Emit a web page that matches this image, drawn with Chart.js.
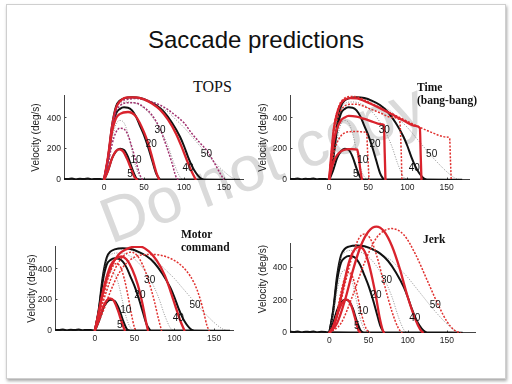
<!DOCTYPE html>
<html>
<head>
<meta charset="utf-8">
<script src="https://cdn.jsdelivr.net/npm/chart.js@4.4.0/dist/chart.umd.min.js"></script>
<style>
html, body { margin: 0; padding: 0; background: #fff; }
body { width: 512px; height: 384px; position: relative; overflow: hidden; font-family: "Liberation Sans", Arial, sans-serif; }
#slide { position: absolute; left: 6px; top: 4px; width: 498px; height: 373px; border: 1px solid #cfcfcf; box-shadow: 1px 2px 3px rgba(0,0,0,0.35); background: #fff; }
#title { position: absolute; left: 0; top: 28px; width: 512px; text-align: center; font-size: 24px; line-height: 24px; color: #111; }
#mark { position: absolute; left: 90px; top: 190px; font-size: 64px; line-height: 72px; color: #dadada; white-space: nowrap; transform-origin: 0 0; transform: rotate(-21deg); }
.panel { position: absolute; }
.ptitle { position: absolute; font-family: "Liberation Serif", "Times New Roman", serif; font-weight: bold; font-size: 11.5px; line-height: 13px; color: #111; white-space: nowrap; }
</style>
</head>
<body>
<div id="slide"></div>
<div id="title">Saccade predictions</div>
<div id="mark">Do not copy</div>
<canvas class="panel" id="tops" width="224" height="101" style="left:20px;top:95px"></canvas>
<canvas class="panel" id="bang" width="224" height="101" style="left:246px;top:95px"></canvas>
<canvas class="panel" id="motor" width="223" height="101" style="left:11px;top:246px"></canvas>
<canvas class="panel" id="jerk" width="230" height="124" style="left:246px;top:225px"></canvas>
<div class="ptitle" style="left:193px;top:79px;font-weight:normal;font-size:16px;line-height:16px">TOPS</div>
<div class="ptitle" style="left:417px;top:81px">Time<br>(bang-bang)</div>
<div class="ptitle" style="left:181px;top:228px">Motor<br>command</div>
<div class="ptitle" style="left:423px;top:233px">Jerk</div>
<script>
const xTicks = [0, 50, 100, 150];
const yTicks = [0, 200, 400];
const ampLabels = ['5', '10', '20', '30', '40', '50'];

// recorded saccades, [time ms, velocity deg/s]
const baseline = [[-50, 8], [-45, 6], [-40, 9], [-35, 5], [-30, 8], [-25, 6], [-20, 9], [-15, 5], [-10, 7], [-5, 6], [0, 4], [40, 3], [80, 3], [120, 3], [170, 2]];
const data5 = [[0, 0], [5, 60], [10, 140], [15, 185], [20, 203], [25, 195], [30, 150], [35, 75], [40, 15], [44, 0]];
const data10 = [[0, 0], [5, 110], [10, 260], [15, 360], [20, 385], [25, 370], [30, 300], [35, 190], [40, 80], [45, 20], [50, 0]];
const data20 = [[0, 0], [5, 130], [10, 320], [15, 430], [20, 460], [25, 470], [30, 468], [35, 450], [40, 410], [45, 350], [50, 290], [55, 215], [60, 130], [65, 45], [70, 0]];
const data30 = [[0, 0], [5, 140], [10, 340], [15, 460], [20, 495], [30, 505], [40, 495], [50, 465], [60, 410], [70, 330], [80, 220], [88, 100], [95, 20], [100, 0]];
const data40 = [[0, 0], [5, 140], [10, 350], [15, 475], [20, 515], [25, 528], [35, 535], [45, 530], [55, 512], [65, 485], [75, 440], [85, 370], [95, 280], [100, 220], [105, 150], [110, 90], [115, 45], [120, 15], [125, 0]];
const data50 = [[0, 0], [5, 140], [10, 350], [15, 475], [20, 515], [30, 530], [40, 530], [50, 515], [60, 495], [70, 470], [80, 440], [90, 390], [100, 340], [110, 280], [120, 220], [130, 160], [140, 105], [150, 55], [160, 15], [168, 0]];

// TOPS model
const tops5 = [[0, 0], [5, 60], [10, 140], [15, 188], [19, 198], [24, 185], [29, 135], [34, 70], [38, 20], [42, 0]];
const tops10 = [[0, 0], [5, 100], [10, 230], [15, 310], [20, 335], [25, 330], [30, 290], [35, 210], [40, 120], [44, 45], [48, 0]];
const tops20 = [[0, 0], [5, 140], [10, 310], [15, 400], [20, 428], [30, 440], [40, 410], [50, 310], [55, 240], [60, 150], [65, 55], [69, 0]];
const tops30 = [[0, 0], [5, 150], [10, 330], [15, 440], [20, 480], [30, 500], [40, 498], [50, 470], [60, 420], [70, 330], [78, 220], [85, 110], [90, 20], [93, 0]];
const tops40 = [[0, 0], [5, 150], [10, 345], [15, 465], [20, 510], [30, 535], [40, 535], [50, 522], [60, 495], [70, 455], [80, 390], [90, 300], [97, 216], [105, 110], [110, 50], [115, 0]];
const tops50 = [[0, 0], [5, 150], [10, 345], [15, 465], [20, 505], [30, 522], [40, 527], [50, 522], [60, 505], [70, 485], [80, 455], [90, 415], [100, 370], [110, 300], [120, 240], [130, 180], [138, 110], [145, 45], [150, 0]];

// bang-bang (minimum time) model
const bang5 = [[0, 0], [3, 70], [6, 120], [10, 160], [15, 185], [20, 196], [25, 200], [30, 200], [36, 197], [38, 140], [40, 60], [42, 0]];
const bang10 = [[0, 0], [3, 100], [6, 180], [10, 240], [15, 285], [20, 305], [25, 312], [35, 314], [45, 310], [48, 300], [49, 200], [50, 100], [51, 0]];
const bang20 = [[0, 0], [3, 140], [6, 250], [10, 330], [15, 385], [20, 405], [25, 415], [35, 410], [45, 395], [55, 378], [65, 362], [70, 356], [71, 180], [72, 0]];
const bang30 = [[0, 0], [3, 170], [6, 300], [10, 390], [15, 450], [20, 480], [27, 490], [35, 490], [50, 465], [65, 435], [80, 405], [90, 388], [92, 200], [93, 0]];
const bang40 = [[0, 0], [3, 180], [6, 330], [10, 430], [15, 495], [20, 520], [27, 530], [35, 528], [50, 500], [65, 465], [80, 425], [95, 385], [110, 350], [116, 335], [117, 160], [118, 0]];
const bang50 = [[0, 0], [3, 180], [6, 340], [10, 440], [15, 505], [20, 530], [27, 540], [35, 538], [50, 505], [70, 455], [90, 405], [110, 355], [130, 310], [150, 278], [154, 270], [155, 130], [156, 0]];

// motor command model
const motor5 = [[0, 0], [5, 70], [10, 150], [15, 198], [19, 211], [24, 195], [29, 135], [34, 55], [38, 0]];
const motor10 = [[0, 0], [5, 90], [10, 200], [15, 310], [20, 390], [26, 435], [31, 425], [37, 340], [42, 220], [46, 110], [50, 20], [52, 0]];
const motor20 = [[0, 0], [5, 120], [10, 250], [15, 350], [20, 425], [27, 470], [34, 482], [40, 462], [47, 400], [54, 300], [60, 175], [64, 70], [67, 0]];
const motor30 = [[0, 0], [10, 180], [20, 335], [30, 445], [38, 495], [45, 510], [52, 495], [60, 430], [68, 320], [75, 190], [80, 80], [84, 0]];
const motor40 = [[0, 0], [5, 120], [10, 240], [20, 410], [30, 495], [40, 530], [50, 545], [58, 545], [68, 515], [78, 455], [88, 360], [95, 260], [102, 150], [108, 60], [113, 0]];
const motor50 = [[0, 0], [10, 120], [20, 260], [30, 370], [40, 440], [50, 478], [60, 493], [75, 495], [90, 480], [105, 440], [115, 390], [125, 310], [132, 215], [137, 120], [141, 35], [144, 0]];

// minimum jerk model
const jerk5 = [[0, 0], [5, 40], [10, 110], [15, 170], [21, 205], [26, 190], [30, 140], [34, 70], [37, 18], [40, 0]];
const jerk10 = [[0, 0], [5, 40], [10, 130], [15, 250], [20, 340], [25, 372], [30, 340], [35, 250], [40, 140], [45, 50], [50, 5], [52, 0]];
const jerk20 = [[0, 0], [5, 30], [10, 110], [15, 220], [20, 330], [25, 430], [31, 500], [38, 526], [45, 500], [50, 430], [55, 330], [60, 210], [64, 100], [68, 20], [70, 0]];
const jerk30 = [[0, 0], [10, 100], [20, 300], [30, 480], [38, 580], [45, 605], [52, 580], [60, 480], [70, 300], [80, 130], [88, 30], [93, 0]];
const jerk40 = [[0, 0], [10, 60], [20, 200], [30, 380], [40, 530], [50, 620], [60, 650], [70, 620], [80, 530], [90, 390], [100, 220], [110, 80], [116, 20], [120, 0]];
const jerk50 = [[0, 0], [15, 60], [30, 230], [45, 430], [60, 580], [72, 630], [80, 638], [95, 600], [110, 480], [125, 320], [140, 160], [150, 70], [160, 15], [168, 0]];

// where the amplitude numbers sit, [time, velocity]
const topsLabelPos = [[32.5, 39], [40, 130], [59, 233], [70, 324], [105, 76], [128, 168]];
const bangLabelPos = [[34, 39], [43, 130], [58.6, 233], [70.5, 324], [108.7, 76], [131, 166]];
const motorLabelPos = [[31.5, 37], [39, 135], [56.7, 232], [69, 326], [105, 80], [126, 167]];
const jerkLabelPos = [[35, 43], [42.8, 133], [59.7, 230], [73, 322], [109, 88], [135, 170]];

const RED = '#d9232d';
const FONT = '"Liberation Sans", Arial, sans-serif';

function line(arr, color, width, dash, order) {
    return {
        data: arr.map(p => ({ x: p[0], y: p[1] })),
        borderColor: color,
        borderWidth: width,
        borderDash: dash || [],
        pointRadius: 0,
        cubicInterpolationMode: 'monotone',
        fill: false,
        order: order
    };
}

function measured() {
    const dot = [1, 1.5];
    return [
        line(baseline, '#111', 2, null, 3),
        line(data5, '#111', 2, null, 3),
        line(data10, '#7a7a7a', 0.8, dot, 3),
        line(data20, '#111', 2, null, 3),
        line(data30, '#7a7a7a', 0.8, dot, 3),
        line(data40, '#111', 2, null, 3),
        line(data50, '#7a7a7a', 0.8, dot, 3)
    ];
}

function model(curves, dotColor) {
    const dash = [2, 1.5];
    return curves.map((c, i) => i % 2 === 0
        ? line(c, RED, 2.3, null, 1)
        : line(c, dotColor, 1.5, dash, 1));
}

const decor = {
    id: 'decor',
    beforeDatasetsDraw(chart) {
        const { ctx } = chart;
        const xs = chart.scales.x, ys = chart.scales.y;
        const x0 = Math.round(xs.getPixelForValue(xs.min)) + 0.5;
        const x1 = xs.getPixelForValue(xs.max);
        const y0 = Math.round(ys.getPixelForValue(0)) - 0.5;
        const yTop = ys.getPixelForValue(550);
        ctx.save();
        ctx.strokeStyle = '#444';
        ctx.lineWidth = 1;
        ctx.beginPath();
        ctx.moveTo(x0, yTop);
        ctx.lineTo(x0, y0);
        ctx.lineTo(x1, y0);
        xTicks.forEach(v => {
            const px = Math.round(xs.getPixelForValue(v)) + 0.5;
            ctx.moveTo(px, y0);
            ctx.lineTo(px, y0 - 2);
        });
        yTicks.forEach(v => {
            const py = Math.round(ys.getPixelForValue(v)) - 0.5;
            ctx.moveTo(x0, py);
            ctx.lineTo(x0 + 2, py);
        });
        ctx.stroke();
        ctx.restore();
    },
    afterDatasetsDraw(chart, args, opts) {
        const { ctx } = chart;
        const xs = chart.scales.x, ys = chart.scales.y;
        ctx.save();
        ctx.fillStyle = '#111';
        ctx.font = '10px ' + FONT;
        ctx.textAlign = 'center';
        ctx.textBaseline = 'middle';
        opts.labels.forEach((p, i) => {
            ctx.fillText(ampLabels[i], xs.getPixelForValue(p[0]), ys.getPixelForValue(p[1]));
        });
        ctx.restore();
    }
};

function panel(id, curves, dotColor, labels, xMax, yMax, titlePad) {
    new Chart(document.getElementById(id), {
        type: 'line',
        data: { datasets: measured().concat(model(curves, dotColor)) },
        plugins: [decor],
        options: {
            responsive: false,
            animation: false,
            events: [],
            layout: { padding: 0 },
            plugins: {
                legend: { display: false },
                tooltip: { enabled: false },
                decor: { labels: labels }
            },
            scales: {
                x: {
                    type: 'linear',
                    min: -50,
                    max: xMax,
                    grid: { display: false, drawTicks: false },
                    border: { display: false },
                    ticks: { padding: 3, color: '#222', font: { size: 8.5, family: FONT }, maxRotation: 0, autoSkip: false },
                    afterBuildTicks: s => { s.ticks = xTicks.map(v => ({ value: v })); },
                    afterFit: s => { s.height = 16; s.paddingLeft = 0; s.paddingRight = 0; }
                },
                y: {
                    type: 'linear',
                    min: 0,
                    max: yMax,
                    grid: { display: false, drawTicks: false },
                    border: { display: false },
                    ticks: { padding: 3, color: '#222', font: { size: 8.5, family: FONT } },
                    title: { display: true, text: 'Velocity (deg/s)', color: '#222', font: { size: 10, family: FONT }, padding: { top: titlePad, bottom: 0 } },
                    afterBuildTicks: s => { s.ticks = yTicks.map(v => ({ value: v })); },
                    afterFit: s => { s.width = 44; s.paddingTop = 0; s.paddingBottom = 0; }
                }
            }
        }
    });
}

panel('tops', [tops5, tops10, tops20, tops30, tops40, tops50], '#a0306e', topsLabelPos, 175, 550, 10.5);
panel('bang', [bang5, bang10, bang20, bang30, bang40, bang50], '#e0302e', bangLabelPos, 180, 550, 11.5);
panel('motor', [motor5, motor10, motor20, motor30, motor40, motor50], '#e0302e', motorLabelPos, 175, 550, 15.5);
panel('jerk', [jerk5, jerk10, jerk20, jerk30, jerk40, jerk50], '#e0302e', jerkLabelPos, 187, 660, 11);
</script>
</body>
</html>
